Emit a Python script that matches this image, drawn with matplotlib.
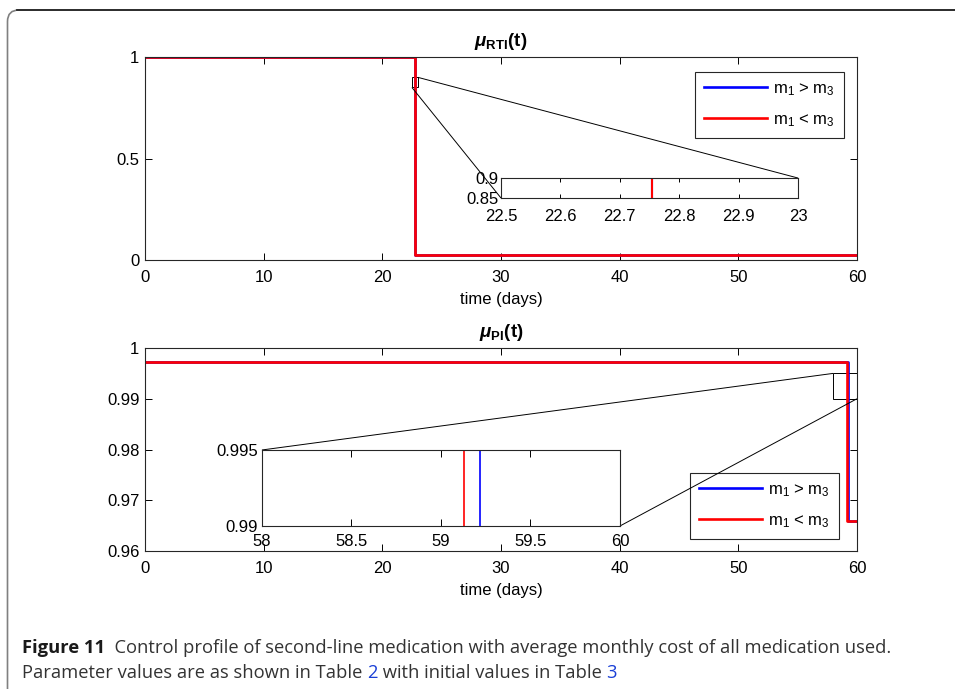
import matplotlib
matplotlib.use("Agg")
import matplotlib.pyplot as plt
from matplotlib.patches import FancyBboxPatch
from matplotlib.lines import Line2D
from mpl_toolkits.axes_grid1.inset_locator import mark_inset

plt.rcParams['font.family'] = ['Liberation Sans', 'DejaVu Sans']
plt.rcParams['mathtext.fontset'] = 'custom'
plt.rcParams['mathtext.rm'] = 'Liberation Sans'
plt.rcParams['mathtext.it'] = 'Liberation Sans:italic'
plt.rcParams['mathtext.bf'] = 'Liberation Sans:bold'
plt.rcParams['mathtext.bfit'] = 'Liberation Sans:bold:italic'

# ---- data ----
# mu_RTI(t): both cases switch at ~22.755 days
t_rti_blue = [0, 22.755, 22.755, 60]
mu_rti_blue = [1.0, 1.0, 0.025, 0.025]
t_rti_red = [0, 22.755, 22.755, 60]
mu_rti_red = [1.0, 1.0, 0.025, 0.025]

# mu_PI(t): blue switches at ~59.22, red at ~59.13
t_pi_blue = [0, 59.22, 59.22, 60]
mu_pi_blue = [0.9972, 0.9972, 0.966, 0.966]
t_pi_red = [0, 59.13, 59.13, 60]
mu_pi_red = [0.9972, 0.9972, 0.966, 0.966]

labels = [r'm$_1$ > m$_3$', r'm$_1$ < m$_3$']
main_xticks = [0, 10, 20, 30, 40, 50, 60]
rti_yticks = [0, 0.5, 1]
pi_yticks = [0.96, 0.97, 0.98, 0.99, 1]
rti_zoom_x = [22.5, 22.6, 22.7, 22.8, 22.9, 23]
rti_zoom_y = [0.85, 0.9]
pi_zoom_x = [58, 58.5, 59, 59.5, 60]
pi_zoom_y = [0.99, 0.995]

FS = 12
BLUE = (0, 0, 1)
RED = (1, 0, 0)


def style(ax, xpad=7, ypad=4, length=5):
    ax.tick_params(direction='in', top=True, right=True, length=length,
                   width=0.7, labelsize=FS, colors='k')
    ax.tick_params(axis='x', pad=xpad)
    ax.tick_params(axis='y', pad=ypad)
    for s in ax.spines.values():
        s.set_linewidth(0.8)
        s.set_color('0.15')


def add_legend(ax, **kw):
    leg = ax.legend(borderaxespad=0, fontsize=FS, handlelength=3.8,
                    fancybox=False, framealpha=1, edgecolor='0.15',
                    labelspacing=0.85, borderpad=0.55, handletextpad=0.35,
                    **kw)
    leg.get_frame().set_linewidth(0.8)
    leg.set_zorder(10)
    return leg


fig = plt.figure(figsize=(9.55, 6.89), dpi=100)

# outer rounded frame
frame = FancyBboxPatch((7.5 / 955, -0.1), 1.2, 1 - 10 / 689 + 0.1,
                       boxstyle='round,pad=0,rounding_size=0.012',
                       transform=fig.transFigure, fc='none', ec='0.5',
                       lw=1.2, mutation_aspect=955 / 689)
fig.patches.append(frame)
fig.lines.append(Line2D([17 / 955, 1], [1 - 10 / 689] * 2,
                        transform=fig.transFigure, color='0.15', lw=1.3))

# ---- top panel ----
ax1 = fig.add_axes([0.1518, 0.6226, 0.7455, 0.2946])
ax1.plot(t_rti_blue, mu_rti_blue, color=BLUE, lw=1.9, label=labels[0])
ax1.plot(t_rti_red, mu_rti_red, color=RED, lw=1.9, label=labels[1])
ax1.set_xlim(0, 60)
ax1.set_ylim(0, 1)
ax1.set_xticks(main_xticks)
ax1.set_yticks(rti_yticks)
ax1.set_yticklabels(['0', '0.5', '1'])
ax1.set_xlabel('time (days)', fontsize=FS, labelpad=5)
ax1.set_title(r'$\boldsymbol{\mu}_{\mathbf{RTI}}\mathbf{(t)}$', fontsize=13.5,
              pad=8)
style(ax1)
add_legend(ax1, loc='upper right', bbox_to_anchor=(0.982, 0.926))

ins1 = fig.add_axes([0.5246, 0.7126, 0.311, 0.029])
ins1.plot(t_rti_blue, mu_rti_blue, color=BLUE, lw=1.5)
ins1.plot(t_rti_red, mu_rti_red, color=RED, lw=1.5)
ins1.set_xlim(22.5, 23)
ins1.set_ylim(0.85, 0.9)
ins1.set_xticks(rti_zoom_x)
ins1.set_xticklabels(['22.5', '22.6', '22.7', '22.8', '22.9', '23'])
ins1.set_yticks(rti_zoom_y)
ins1.set_yticklabels(['0.85', '0.9'])
style(ins1, xpad=8, ypad=2, length=3)
mark_inset(ax1, ins1, loc1=1, loc2=3, fc='none', ec='k', lw=0.7)

# ---- bottom panel ----
ax2 = fig.add_axes([0.1518, 0.2003, 0.7455, 0.2946])
ax2.plot(t_pi_blue, mu_pi_blue, color=BLUE, lw=1.9, label=labels[0])
ax2.plot(t_pi_red, mu_pi_red, color=RED, lw=1.9, label=labels[1])
ax2.set_xlim(0, 60)
ax2.set_ylim(0.96, 1)
ax2.set_xticks(main_xticks)
ax2.set_yticks(pi_yticks)
ax2.set_yticklabels(['0.96', '0.97', '0.98', '0.99', '1'])
ax2.set_xlabel('time (days)', fontsize=FS, labelpad=5)
ax2.set_title(r'$\boldsymbol{\mu}_{\mathbf{PI}}\mathbf{(t)}$', fontsize=13.5,
              pad=8)
style(ax2)

ins2 = fig.add_axes([0.2743, 0.2366, 0.3749, 0.1103])
ins2.plot(t_pi_blue, mu_pi_blue, color=BLUE, lw=1.2)
ins2.plot(t_pi_red, mu_pi_red, color=RED, lw=1.2)
ins2.set_xlim(58, 60)
ins2.set_ylim(0.99, 0.995)
ins2.set_xticks(pi_zoom_x)
ins2.set_xticklabels(['58', '58.5', '59', '59.5', '60'])
ins2.set_yticks(pi_zoom_y)
ins2.set_yticklabels(['0.99', '0.995'])
style(ins2, xpad=6, ypad=3)
mark_inset(ax2, ins2, loc1=2, loc2=4, fc='none', ec='k', lw=0.7)

add_legend(ax2, loc='lower right', bbox_to_anchor=(0.975, 0.059))

# ---- caption ----
cap_font = ['Open Sans', 'DejaVu Sans']
cfs = 13.2
r = fig.canvas.get_renderer()


def caption_line(y, parts):
    x = 22 / 955
    for txt, col, wt in parts:
        t = fig.text(x, y, txt, fontsize=cfs, family=cap_font,
                     va='baseline', color=col, fontweight=wt)
        x = t.get_window_extent(r).x1 / fig.bbox.width


caption_line(1 - 653 / 689,
             [('Figure 11', '0.1', 'bold'),
              ('  Control profile of second-line medication with average '
               'monthly cost of all medication used.', '0.2', 'normal')])
caption_line(1 - 678 / 689,
             [('Parameter values are as shown in Table ', '0.2', 'normal'),
              ('2', '#1a3fd6', 'normal'),
              (' with initial values in Table ', '0.2', 'normal'),
              ('3', '#1a3fd6', 'normal')])

fig.savefig('out.png', dpi=100)
